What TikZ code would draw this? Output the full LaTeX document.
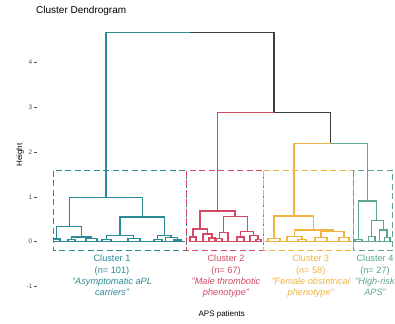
\documentclass[tikz,border=0pt]{standalone}
\usepackage{fontspec}
\setmainfont{Liberation Sans}
\definecolor{cteal}{HTML}{2B8A95}
\definecolor{cred}{HTML}{D34A64}
\definecolor{cyel}{HTML}{EFB540}
\definecolor{cgrn}{HTML}{5DA689}
\definecolor{cdark}{HTML}{3F3F3F}
\definecolor{ctick}{HTML}{555555}
\newcommand{\br}[5]{\draw (#1,#2) -- (#1,#3) -- (#4,#3) -- (#4,#5);}
\tikzset{
  dend/.style={line width=1.1pt, line join=miter},
  clbox/.style={line width=1pt, dash pattern=on 6pt off 3.5pt},
  cltext/.style={font=\fontsize{9.2}{11.2}\selectfont, align=center, inner sep=0pt},
  ticklab/.style={font=\fontsize{6.5}{7}\selectfont, text=ctick, anchor=east, inner sep=0pt},
}
\begin{document}
\begin{tikzpicture}[x=1pt,y=-1pt]
\useasboundingbox[fill=white] (0,0) rectangle (395,323);
% title and axis labels
\node[anchor=west, inner sep=0pt, font=\fontsize{10}{12}\selectfont] (title) at (36,11) {Cluster Dendrogram};
\node[inner sep=0pt, font=\fontsize{8}{10}\selectfont, rotate=90] (ylab) at (20,155) {Height};
\node[inner sep=0pt, font=\fontsize{8}{10}\selectfont] (xlab) at (221.7,314) {APS patients};
% ticks
\foreach \v/\yy in {4/62.7,3/107.5,2/152.3,1/197.1,0/241.7,-1/286.5}{
  \node[ticklab] (t\v) at (32.5,\yy) {\v};
  \draw[ctick, line width=0.5pt] (33.5,\yy) -- (36.5,\yy);
}
% top-level connections
\begin{scope}[dend]
\draw[cteal] (106,197.7) -- (106,32.7) -- (190,32.7);
\draw[cdark] (190,32.7) -- (274,32.7) -- (274,112.7);
\draw[cred] (217.7,211) -- (217.7,112.7) -- (274,112.7);
\draw[cdark] (274,112.7) -- (330.7,112.7) -- (330.7,143.3);
\draw[cyel] (294,216) -- (294,143.3) -- (330.7,143.3);
\draw[cgrn] (330.7,143.3) -- (367.7,143.3) -- (367.7,201);
\end{scope}
% cluster 1
\begin{scope}[dend, cteal]
\br{69.3}{226.5}{197.7}{142.7}{217}
\br{56.7}{239}{226.5}{81.7}{237}
\br{53.5}{241.7}{239}{60}{241.7}
\br{71.7}{239.5}{237}{91.7}{238.5}
\br{68}{241.7}{239.5}{75}{241.7}
\br{86}{241.7}{238.5}{97}{241.7}
\br{120}{235.5}{217}{164.7}{235.5}
\br{106.7}{239.5}{235.5}{133.3}{238.8}
\br{102}{241.7}{239.5}{111}{241.7}
\br{128}{241.7}{238.8}{140}{241.7}
\br{157.3}{239.5}{235.5}{171}{237.8}
\br{154}{241.7}{239.5}{162}{241.7}
\br{165.5}{241.7}{237.8}{177.5}{240}
\br{174}{241.7}{240}{181}{241.7}
\draw[line width=1.5pt] (53.5,241.5) -- (185,241.5);
\end{scope}
% cluster 2
\begin{scope}[dend, cred]
\br{200}{229}{211}{235}{216.7}
\br{193}{237}{229}{207.5}{234}
\br{190}{241.7}{237}{196}{241.7}
\br{203}{241.7}{234}{212}{238}
\br{209}{241.7}{238}{215}{241.7}
\br{223.3}{232.5}{216.7}{247.3}{231.5}
\br{219.3}{238.5}{232.5}{228}{241.7}
\br{216.5}{241.7}{238.5}{222}{241.7}
\br{240.5}{237}{231.5}{253.5}{235.5}
\br{237}{241.7}{237}{244}{241.7}
\br{250}{241.7}{235.5}{258}{239.5}
\br{256}{241.7}{239.5}{261}{241.7}
\draw[line width=1.5pt] (188.5,241.5) -- (262,241.5);
\end{scope}
% cluster 3
\begin{scope}[dend, cyel]
\br{274}{238.5}{216}{313.3}{230}
\br{268}{241.7}{238.5}{280}{241.7}
\br{294.3}{236.5}{230}{333.3}{231.7}
\br{287}{241.7}{236.5}{302}{239.5}
\br{298}{241.7}{239.5}{306}{241.7}
\br{321}{237.5}{231.7}{344}{237.5}
\br{315}{241.7}{237.5}{327}{241.7}
\br{339}{241.7}{237.5}{349}{241.7}
\draw[line width=1.5pt] (264.5,241.5) -- (352,241.5);
\end{scope}
% cluster 4
\begin{scope}[dend, cgrn]
\br{358.3}{239.5}{201}{376.7}{220.7}
\br{355}{241.7}{239.5}{362}{241.7}
\br{371.7}{236.5}{220.7}{383.3}{230}
\br{368.5}{241.7}{236.5}{375}{241.7}
\br{379.5}{241.7}{230}{387}{237.5}
\br{384.5}{241.7}{237.5}{390}{241.7}
\draw[line width=1.5pt] (354.5,241.5) -- (391.5,241.5);
\end{scope}
% cluster boxes
\draw[clbox, cteal] (53.3,170.7) rectangle (186.7,250.5);
\draw[clbox, cred] (186.7,170.7) rectangle (263.3,250.5);
\draw[clbox, cyel] (263.3,170.7) rectangle (353,250.5);
\draw[clbox, cgrn] (353,170.7) rectangle (392.7,250.5);
% cluster labels
\node[cltext, text=cteal, anchor=north] (l1) at (112,255) {Cluster 1\\(n= 101)\\\itshape "Asymptomatic aPL\\\itshape carriers"};
\node[cltext, text=cred, anchor=north] (l2) at (226,255) {Cluster 2\\(n= 67)\\\itshape "Male thrombotic\\\itshape phenotype"};
\node[cltext, text=cyel, anchor=north] (l3) at (310.7,255) {Cluster 3\\(n= 58)\\\itshape "Female obstetrical\\\itshape phenotype"};
\node[cltext, text=cgrn, anchor=north] (l4) at (375,255) {Cluster 4\\(n= 27)\\\itshape "High-risk\\\itshape APS"};
\end{tikzpicture}
\end{document}
